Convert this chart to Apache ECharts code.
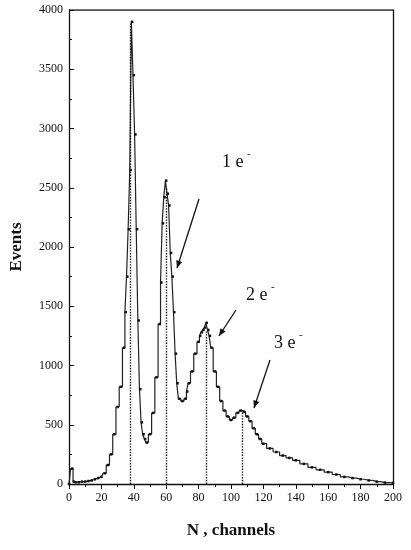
<!DOCTYPE html>
<html><head><meta charset="utf-8">
<script src="https://cdn.jsdelivr.net/npm/echarts@6/dist/echarts.min.js"></script>
<style>html,body{margin:0;background:#fff}#c{width:411px;height:550px}</style>
</head><body><div id="c"></div>
<script>
// channel, events
const channels = [0,2,3,4,6,8,10,12,14,16,18,20,22,24,26,28,30,32,34,35,36,37,38,39,40,41,42,43,44,45,46,47,48,50,52,54,56,57,58,59,60,61,62,63,64,65,66,67,68,70,72,73,74,76,78,80,81,82,83,84,85,86,87,88,90,92,94,96,98,100,102,104,106,108,110,112,114,116,118,120,124,128,132,136,140,145,150,155,160,165,170,175,180,185,190,195,200];
const events = [0,130,20,15,15,20,20,25,30,40,50,60,90,160,250,420,650,820,1150,1450,1750,2150,2650,3900,3450,2950,2150,1380,800,520,420,380,350,420,600,900,1350,1700,2200,2420,2560,2450,2350,1950,1750,1450,1100,850,720,700,720,780,850,950,1100,1200,1250,1280,1300,1320,1360,1300,1250,1150,950,820,700,620,570,540,560,600,620,610,570,530,470,420,380,340,300,270,240,220,200,170,140,120,100,80,60,50,40,30,20,12,10];
const peakLines = [[38,3900],[60,2500],[85,1300],[107,620]];
const labels = [
  {text:'1 e', x:222, y:153},
  {text:'2 e', x:246, y:286},
  {text:'3 e', x:274, y:334}
];
const arrows = [[[199,199],[177,268]],[[236,310],[219,336]],[[270,360],[254,408]]];

const chart = echarts.init(document.getElementById('c'));
const font = 'Liberation Serif';
const graphics = [];
labels.forEach(function (l) {
  graphics.push({type:'text', left:l.x, top:l.y,
    style:{text:l.text, font:'18px "Liberation Serif"', fill:'#111'}});
  graphics.push({type:'text', left:l.x + 25, top:l.y - 4,
    style:{text:'-', font:'11px "Liberation Serif"', fill:'#111'}});
});
arrows.forEach(function (a) {
  const [p, q] = a;
  const ang = Math.atan2(q[1] - p[1], q[0] - p[0]);
  const h = 8, w = 0.4;
  graphics.push({type:'line', shape:{x1:p[0], y1:p[1], x2:q[0], y2:q[1]}, style:{stroke:'#111', lineWidth:1.3}});
  graphics.push({type:'polygon', shape:{points:[
    q,
    [q[0] - h * Math.cos(ang - w), q[1] - h * Math.sin(ang - w)],
    [q[0] - h * Math.cos(ang + w), q[1] - h * Math.sin(ang + w)]
  ]}, style:{fill:'#111'}});
});

chart.setOption({
  animation: false,
  grid: {left: 68, right: 18, top: 10, bottom: 66},
  graphic: graphics,
  xAxis: {
    type: 'value', min: 0, max: 200, interval: 20,
    name: 'N , channels', nameLocation: 'middle', nameGap: 38,
    nameTextStyle: {fontFamily: font, fontSize: 17, fontWeight: 'bold', color: '#111'},
    axisLine: {onZero: false, lineStyle: {color: '#111', width: 1.3}},
    axisTick: {inside: false, length: 5, lineStyle: {color: '#111'}},
    minorTick: {show: true, splitNumber: 2, length: 3, lineStyle: {color: '#111'}},
    axisLabel: {fontFamily: font, fontSize: 12, color: '#111', margin: 8},
    splitLine: {show: false}
  },
  yAxis: [{
    type: 'value', min: 0, max: 4000, interval: 500,
    name: 'Events', nameLocation: 'middle', nameGap: 44,
    nameTextStyle: {fontFamily: font, fontSize: 17, fontWeight: 'bold', color: '#111'},
    axisLine: {show: true, lineStyle: {color: '#111', width: 1.3}},
    axisTick: {inside: true, length: 5, lineStyle: {color: '#111'}},
    minorTick: {show: true, splitNumber: 2, length: 3, lineStyle: {color: '#111'}},
    axisLabel: {fontFamily: font, fontSize: 12, color: '#111', margin: 6,
      formatter: function (v) { return String(v); }},
    splitLine: {show: false}
  }, {
    type: 'value', min: 0, max: 4000, position: 'right',
    axisLine: {show: true, lineStyle: {color: '#111', width: 1.3}},
    axisTick: {show: false}, axisLabel: {show: false}, splitLine: {show: false}
  }],
  series: [{
    type: 'line', step: 'middle',
    data: channels.map(function (c, i) { return [c, events[i]]; }),
    symbol: 'rect', symbolSize: 2.5, itemStyle: {color: '#111'},
    lineStyle: {color: '#222', width: 1.2},
    markLine: {
      silent: true, symbol: 'none', label: {show: false},
      lineStyle: {color: '#111', type: 'dotted', width: 1.4},
      data: peakLines.map(function (p) { return [{coord: [p[0], 0]}, {coord: [p[0], p[1]]}]; })
    }
  }, {
    type: 'line', yAxisIndex: 0, data: [[0, 4000], [200, 4000]],
    symbol: 'none', lineStyle: {color: '#111', width: 1.3}, silent: true
  }]
});
</script></body></html>
